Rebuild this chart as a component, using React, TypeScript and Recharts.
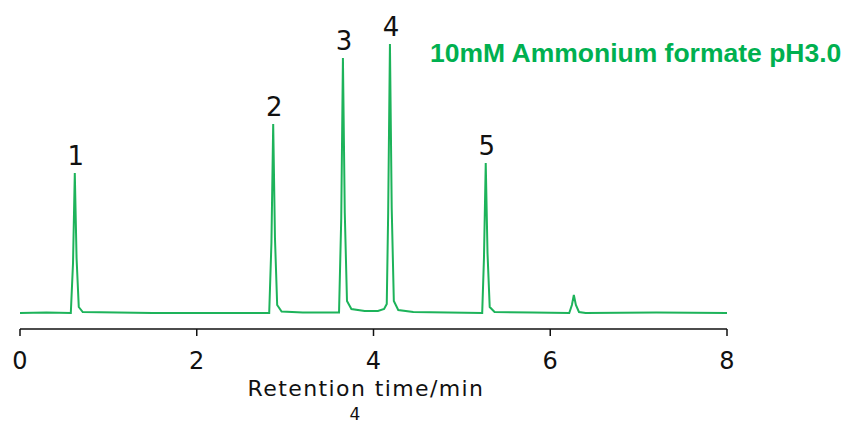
import { LineChart, Line, XAxis, YAxis } from "recharts"

// retention time (min) and detector signal (arbitrary units)
const times = [
  0, 0.3, 0.575, 0.6, 0.62, 0.64, 0.665, 0.71, 1.5,
  2.82, 2.845, 2.865, 2.885, 2.91, 2.96, 3.2,
  3.61, 3.635, 3.654, 3.675, 3.7, 3.75, 3.9, 4.05, 4.12, 4.15,
  4.166, 4.186, 4.206, 4.23, 4.28, 4.45,
  5.23, 5.25, 5.27, 5.29, 5.315, 5.37, 5.8,
  6.215, 6.245, 6.267, 6.29, 6.325, 6.4, 7.2, 8,
]
const signal = [
  0, 0.5, 0, 50, 140, 55, 6, 1, 0,
  0, 70, 189, 75, 8, 1.5, 0.5,
  0.5, 95, 255, 100, 12, 4, 2, 2, 4, 9,
  100, 269, 105, 12, 3, 1,
  0, 55, 150, 60, 6, 1, 0.5,
  0, 8, 18, 8, 1, 0, 0.5, 0,
]
// peak numbers, placed at the apex points
const peakTimes = [0.62, 2.865, 3.654, 4.186, 5.27]
const peakNames = ["1", "2", "3", "4", "5"]

const xTicks = [0, 2, 4, 6, 8]

const data = times.map((t, i) => {
  const k = peakTimes.indexOf(t)
  return { t, s: signal[i], peak: k >= 0 ? peakNames[k] : null }
})

const font = "'DejaVu Sans', sans-serif"

function PeakLabel(props: any) {
  const { x, y, index } = props
  const name = data[index]?.peak
  if (!name) return null
  return (
    <text x={x + 1} y={y - 8} textAnchor="middle" fontFamily={font} fontSize={26} fill="#111">
      {name}
    </text>
  )
}

export default function App() {
  return (
    <div style={{ position: "absolute", left: 0, top: 0, width: 847, height: 425, background: "#fff" }}>
      <LineChart width={847} height={425} data={data} margin={{ top: 29, right: 120, bottom: 36, left: 20 }}>
        <XAxis
          dataKey="t"
          type="number"
          domain={[0, 8]}
          ticks={xTicks}
          height={60}
          stroke="#111"
          strokeWidth={1.5}
          tickSize={7}
          tickMargin={16}
          tick={{ fontFamily: font, fontSize: 24, fill: "#111" }}
        />
        <YAxis hide domain={[-16, 284]} allowDataOverflow width={0} />
        <Line
          type="linear"
          dataKey="s"
          stroke="#1db35a"
          strokeWidth={2}
          dot={false}
          isAnimationActive={false}
          label={<PeakLabel />}
        />
        <text x={366} y={396} textAnchor="middle" fontFamily={font} fontSize={22} letterSpacing={1.4} fill="#111">
          Retention time/min
        </text>
        <text x={355} y={420} textAnchor="middle" fontFamily={font} fontSize={17} fill="#111">
          4
        </text>
        <text x={430} y={62} fontFamily="'Liberation Sans', Arial, sans-serif" fontWeight="bold" fontSize={26.5} fill="#00b050">
          10mM Ammonium formate pH3.0
        </text>
      </LineChart>
    </div>
  )
}
